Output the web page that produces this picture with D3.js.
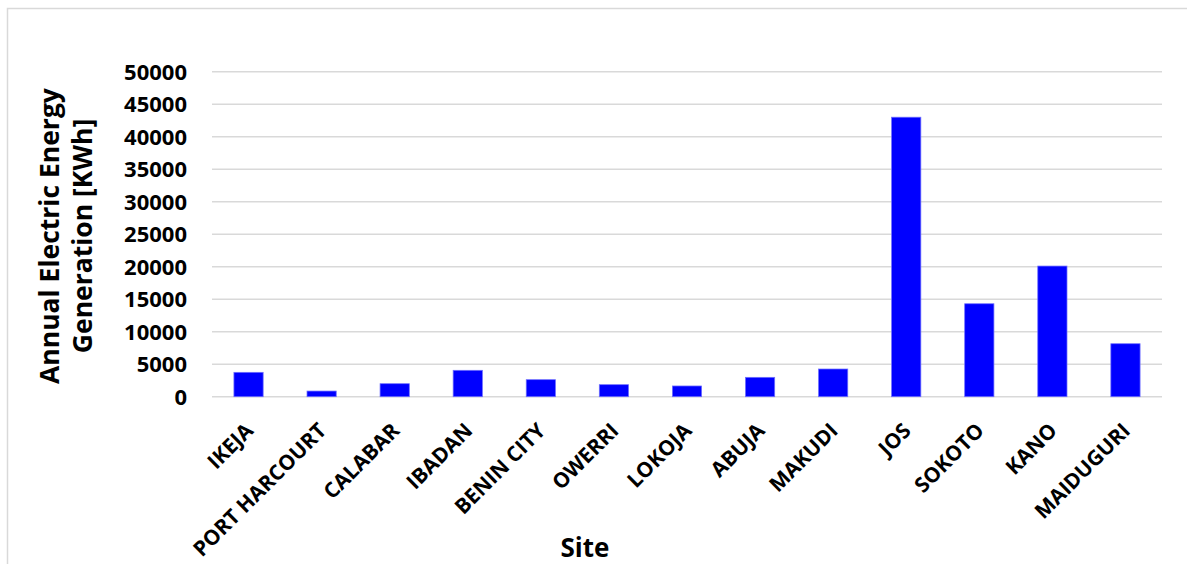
<!DOCTYPE html>
<html>
  <head>
    <meta charset="utf-8">
    <script src="https://d3js.org/d3.v7.min.js"></script>
    <style>
      html, body { margin: 0; padding: 0; background: #fff; }
      text { font-family: "Open Sans", Arial, sans-serif; font-weight: bold; fill: #000; }
    </style>
  </head>
  <body>
    <svg id="chartSvg" width="1187" height="564"></svg>
    <script>
      var sites = ["IKEJA", "PORT HARCOURT", "CALABAR", "IBADAN", "BENIN CITY", "OWERRI",
                   "LOKOJA", "ABUJA", "MAKUDI", "JOS", "SOKOTO", "KANO", "MAIDUGURI"];
      var energy = [3750, 870, 2000, 4060, 2620, 1850, 1650, 2980, 4260, 43000, 14300, 20100, 8150];
      var yTicks = [0, 5000, 10000, 15000, 20000, 25000, 30000, 35000, 40000, 45000, 50000];
      var yTitle = ["Annual Electric Energy", "Generation [KWh]"];
      var xTitle = "Site";

      var svg = d3.select("svg");
      var plotLeft = 212, plotRight = 1162, plotTop = 71.7, plotBottom = 396.7;

      // chart frame (only top and left edges are inside the picture)
      svg.append("rect")
        .attr("x", 7.5).attr("y", 8.5)
        .attr("width", 1300).attr("height", 700)
        .style("fill", "none").style("stroke", "#d9d9d9").style("stroke-width", 1.5);

      var x = d3.scaleBand().domain(sites).range([plotLeft, plotRight]).padding(0);
      var y = d3.scaleLinear().domain([0, 50000]).range([plotBottom, plotTop]);

      // gridlines
      svg.selectAll("line.grid")
        .data(yTicks)
        .enter()
        .append("line")
        .attr("class", "grid")
        .attr("x1", plotLeft).attr("x2", plotRight)
        .attr("y1", d => y(d)).attr("y2", d => y(d))
        .style("stroke", "#d9d9d9").style("stroke-width", 1.5);

      // y tick labels
      svg.selectAll("text.ytick")
        .data(yTicks)
        .enter()
        .append("text")
        .attr("class", "ytick")
        .attr("x", 187)
        .attr("y", d => y(d))
        .attr("dy", "0.36em")
        .attr("text-anchor", "end")
        .style("font-size", "22px")
        .text(d => d);

      // bars
      var bw = x.bandwidth() * 0.4;
      svg.selectAll("rect.bar")
        .data(energy)
        .enter()
        .append("rect")
        .attr("class", "bar")
        .attr("x", (d, i) => x(sites[i]) + x.bandwidth() / 2 - bw / 2)
        .attr("y", d => y(d))
        .attr("width", bw)
        .attr("height", d => y(0) - y(d))
        .style("fill", "#0000ff")
        .style("stroke", "#6f6fff").style("stroke-width", 0.75);

      // x tick labels
      svg.selectAll("text.xtick")
        .data(sites)
        .enter()
        .append("text")
        .attr("class", "xtick")
        .attr("text-anchor", "end")
        .attr("transform", d => `translate(${x(d) + x.bandwidth() / 2 + 6},${432}) rotate(-45)`)
        .style("font-size", "21px")
        .text(d => d);

      // axis titles
      svg.append("text")
        .attr("x", 585).attr("y", 557)
        .attr("text-anchor", "middle")
        .style("font-size", "26px")
        .text(xTitle);

      var yt = svg.append("text")
        .attr("transform", "translate(59,236) rotate(-90)")
        .attr("text-anchor", "middle")
        .style("font-size", "26.5px");
      yt.selectAll("tspan")
        .data(yTitle)
        .enter()
        .append("tspan")
        .attr("x", 0)
        .attr("y", (d, i) => i * 33)
        .text(d => d);
    </script>
  </body>
</html>
